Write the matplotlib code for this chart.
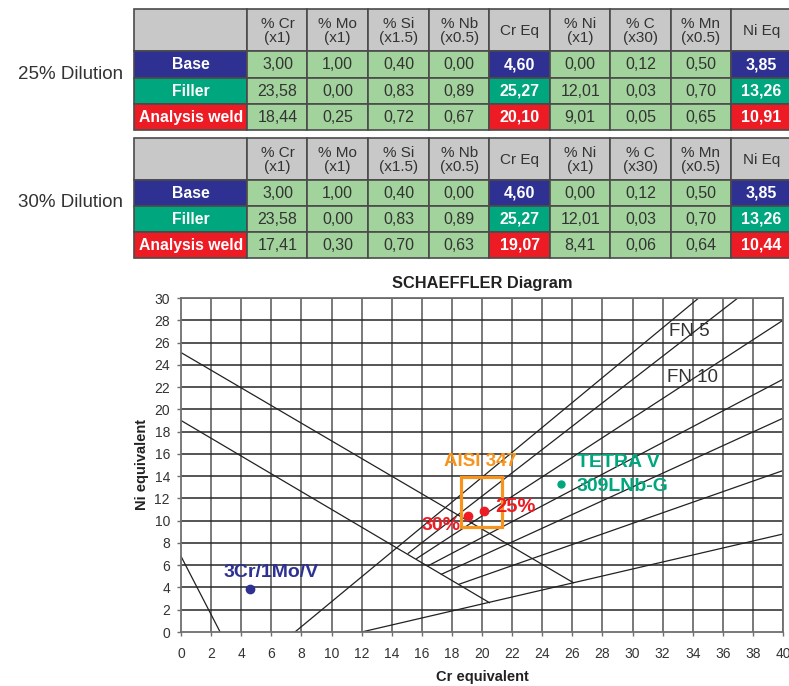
import matplotlib
matplotlib.use("Agg")
import matplotlib.pyplot as plt
from matplotlib.patches import Rectangle

plt.rcParams['font.family'] = ['Liberation Sans', 'DejaVu Sans']

# ---------------- data ----------------
header = ["% Cr\n(x1)", "% Mo\n(x1)", "% Si\n(x1.5)", "% Nb\n(x0.5)", "Cr Eq",
          "% Ni\n(x1)", "% C\n(x30)", "% Mn\n(x0.5)", "Ni Eq"]
row_labels = ["Base", "Filler", "Analysis weld"]
dilution_labels = ["25% Dilution", "30% Dilution"]

base_vals = [3.00, 1.00, 0.40, 0.00, 4.60, 0.00, 0.12, 0.50, 3.85]
filler_vals = [23.58, 0.00, 0.83, 0.89, 25.27, 12.01, 0.03, 0.70, 13.26]
weld25_vals = [18.44, 0.25, 0.72, 0.67, 20.10, 9.01, 0.05, 0.65, 10.91]
weld30_vals = [17.41, 0.30, 0.70, 0.63, 19.07, 8.41, 0.06, 0.64, 10.44]

# Schaeffler diagram lines (Cr eq, Ni eq)
line_mart_x = [0, 2.6]
line_mart_y = [6.8, 0]
line_upper_x = [0, 26.07]
line_upper_y = [25.1, 4.43]
line_lower_x = [0, 20.5]
line_lower_y = [19.0, 2.63]
line_aus_x = [7.57, 34.4]
line_aus_y = [0, 30]
line_base_x = [12, 40]
line_base_y = [0, 8.8]
ferrite_start_x = [15.1, 15.66, 16.4, 17.3, 18.5]
ferrite_start_y = [7.07, 6.6, 5.93, 5.18, 4.3]
ferrite_end_x = [37.0, 40, 40, 40, 40]
ferrite_end_y = [30, 28.0, 22.7, 19.2, 14.5]

box_x = [18.63, 21.3]
box_y = [9.45, 13.9]

NAVY = "#2E3192"
TEAL = "#00A77E"
RED = "#ED1C24"
ORANGE = "#F7941D"
GREEN = "#A2D39C"
GRAY = "#C8C8C8"
BORDER = "#4a4a4a"
TXT = "#333333"

fig = plt.figure(figsize=(7.89, 6.86), dpi=100)

# ---------------- tables (pixel layout overlay) ----------------
ov = fig.add_axes([0, 0, 1, 1])
ov.set_xlim(0, 789)
ov.set_ylim(686, 0)
ov.axis("off")
ov.patch.set_visible(False)

col_edges = [134, 247.5, 307.5, 368, 429, 489.5, 550, 610.5, 671, 731, 792]
tables = [
    ([9, 51, 77.7, 103.7, 130], [base_vals, filler_vals, weld25_vals]),
    ([138, 180, 206, 232, 258], [base_vals, filler_vals, weld30_vals]),
]
row_colors = [NAVY, TEAL, RED]

def fmt(v):
    return f"{v:.2f}".replace(".", ",")

for ti, (row_edges, rows) in enumerate(tables):
    # header row
    for c in range(10):
        x0, x1 = col_edges[c], col_edges[c + 1]
        y0, y1 = row_edges[0], row_edges[1]
        ov.add_patch(Rectangle((x0, y0), x1 - x0, y1 - y0, facecolor=GRAY,
                               edgecolor=BORDER, lw=1.2))
        if c > 0:
            ov.text((x0 + x1) / 2, (y0 + y1) / 2 + 1, header[c - 1], ha="center",
                    va="center", fontsize=11, color=TXT, linespacing=1.0)
    for r in range(3):
        y0, y1 = row_edges[r + 1], row_edges[r + 2]
        for c in range(10):
            x0, x1 = col_edges[c], col_edges[c + 1]
            if c == 0:
                fc = row_colors[r]
                ov.add_patch(Rectangle((x0, y0), x1 - x0, y1 - y0, facecolor=fc,
                                       edgecolor=BORDER, lw=1.2))
                ov.text((x0 + x1) / 2, (y0 + y1) / 2 + 0.5, row_labels[r], ha="center",
                        va="center", fontsize=11.3, color="white", fontweight="bold")
            else:
                v = rows[r][c - 1]
                eq = header[c - 1] in ("Cr Eq", "Ni Eq")
                fc = row_colors[r] if eq else GREEN
                ov.add_patch(Rectangle((x0, y0), x1 - x0, y1 - y0, facecolor=fc,
                                       edgecolor=BORDER, lw=1.2))
                ov.text((x0 + x1) / 2, (y0 + y1) / 2 + 0.5, fmt(v), ha="center",
                        va="center", fontsize=11.5,
                        color="white" if eq else TXT,
                        fontweight="bold" if eq else "normal")
    ov.text(71, row_edges[2] - 3.5, dilution_labels[ti],
            ha="center", va="center", fontsize=13.5, color=TXT)

# ---------------- Schaeffler diagram ----------------
ax = fig.add_axes([181 / 789, 54 / 686, 602 / 789, 334 / 686])
ax.set_xlim(0, 40)
ax.set_ylim(0, 30)
ax.set_xticks(range(0, 41, 2))
ax.set_yticks(range(0, 31, 2))
ax.grid(False)
for xv in range(2, 41, 2):
    ax.axvline(xv, color="#6e6e6e", lw=1.3, zorder=1)
for yv in range(2, 31, 2):
    ax.axhline(yv, color="#262626", lw=1.1, zorder=1)
for s in ax.spines.values():
    s.set_color("#6e6e6e")
    s.set_linewidth(1.3)
ax.tick_params(axis="both", length=3, width=1, color="#6e6e6e",
               labelsize=10, labelcolor=TXT)
ax.tick_params(axis="x", pad=8)
ax.tick_params(axis="y", pad=5)

lc = "#222222"
lw = 0.9
for xs, ys in [(line_mart_x, line_mart_y), (line_upper_x, line_upper_y),
               (line_lower_x, line_lower_y), (line_aus_x, line_aus_y),
               (line_base_x, line_base_y)]:
    ax.plot(xs, ys, color=lc, lw=lw, zorder=2)
for sx, sy, ex, ey in zip(ferrite_start_x, ferrite_start_y, ferrite_end_x, ferrite_end_y):
    ax.plot([sx, ex], [sy, ey], color=lc, lw=lw, zorder=2)

ax.text(32.4, 27.0, "FN 5", fontsize=13.5, color=TXT, va="center", ha="left", zorder=3)
ax.text(32.3, 22.9, "FN 10", fontsize=13.5, color=TXT, va="center", ha="left", zorder=3)

# orange box
ax.add_patch(Rectangle((box_x[0], box_y[0]), box_x[1] - box_x[0], box_y[1] - box_y[0],
                       fill=False, edgecolor=ORANGE, lw=2.3, zorder=4))
ax.text(17.5, 15.3, "AISI 347", color=ORANGE, fontsize=13.5, fontweight="bold",
        va="center", ha="left", zorder=5)

# points
ax.plot(base_vals[4], base_vals[8], "o", color=NAVY, ms=6, zorder=6, clip_on=False)
ax.plot(filler_vals[4], filler_vals[8], "o", color=TEAL, ms=5, zorder=6)
ax.plot(weld25_vals[4], weld25_vals[8], "o", color=RED, ms=6, zorder=6)
ax.plot(weld30_vals[4], weld30_vals[8], "o", color=RED, ms=6, zorder=6)

ax.text(20.9, 11.3, "25%", color=RED, fontsize=14.5, fontweight="bold",
        va="center", ha="left", zorder=6)
ax.text(18.6, 9.55, "30%", color=RED, fontsize=14, fontweight="bold",
        va="center", ha="right", zorder=6)
ax.text(26.3, 15.2, "TETRA V", color=TEAL, fontsize=14, fontweight="bold",
        va="center", ha="left", zorder=6)
ax.text(26.3, 13.1, "309LNb-G", color=TEAL, fontsize=14, fontweight="bold",
        va="center", ha="left", zorder=6)
ax.text(2.8, 5.3, "3Cr/1Mo/V", color=NAVY, fontsize=14, fontweight="bold",
        va="center", ha="left", zorder=6)

ax.set_title("SCHAEFFLER Diagram", fontsize=11.8, fontweight="bold", color="#222222", pad=7.5)
ax.set_xlabel("Cr equivalent", fontsize=10.5, fontweight="bold", color="#222222", labelpad=6)
ax.set_ylabel("Ni equivalent", fontsize=10.5, fontweight="bold", color="#222222", labelpad=4)

fig.savefig("out.png", dpi=100)
